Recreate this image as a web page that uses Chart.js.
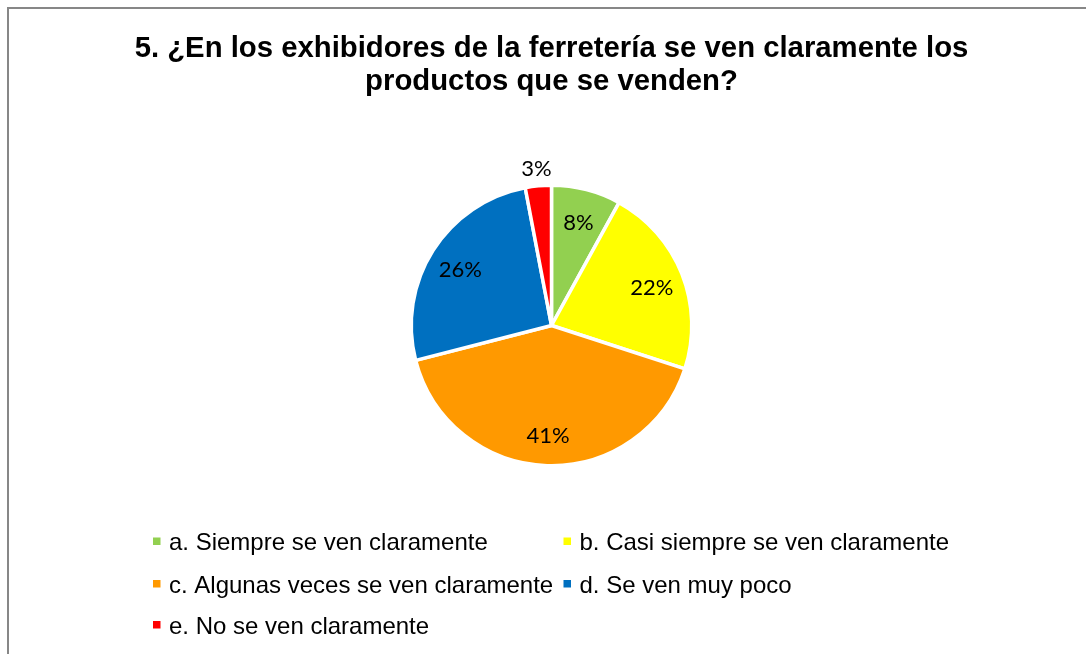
<!DOCTYPE html>
<html>
<head>
<meta charset="utf-8">
<script src="https://cdn.jsdelivr.net/npm/chart.js@4.4.1/dist/chart.umd.min.js"></script>
<style>
body{margin:0;background:#fff;overflow:hidden;}
#frame{position:absolute;left:7px;top:7px;width:1100px;height:660px;border-top:2px solid #878787;border-left:2px solid #878787;}
canvas{display:block;}
</style>
</head>
<body>
<div id="frame"><canvas id="pieChart" width="1085" height="645"></canvas></div>
<script>
const titleLines=['5. ¿En los exhibidores de la ferretería se ven claramente los','productos que se venden?'];
const categories=['a. Siempre se ven claramente','b. Casi siempre se ven claramente','c. Algunas veces se ven claramente','d. Se ven muy poco','e. No se ven claramente'];
const percentages=[8,22,41,26,3];
const sliceColors=['#92D050','#FFFF00','#FF9900','#0070C0','#FF0000'];

/* legend grid, Excel style: two fixed columns */
const legendCols=[144,554.5];
const legendRows=[541,583.5,624.5];

const sliceLabels={
id:'sliceLabels',
afterDatasetsDraw(chart){
const c=chart.ctx;
const arcs=chart.getDatasetMeta(0).data;
c.save();
c.font='22px Lato';
c.fillStyle='#000';
c.textAlign='center';
c.textBaseline='middle';
arcs.forEach((arc,i)=>{
const p=arc.getProps(['x','y','startAngle','endAngle','outerRadius']);
const mid=(p.startAngle+p.endAngle)/2;
const r=percentages[i]<5 ? p.outerRadius+19 : p.outerRadius*0.77;
c.fillText(percentages[i]+'%',p.x+Math.cos(mid)*r,p.y+Math.sin(mid)*r+2);
});
c.restore();
}
};

const gridLegend={
id:'gridLegend',
afterDraw(chart){
const c=chart.ctx;
const ds=chart.data.datasets[0];
c.save();
c.font='24px "Liberation Sans", Arial, sans-serif';
c.textBaseline='alphabetic';
c.textAlign='left';
chart.data.labels.forEach((lab,i)=>{
const x=legendCols[i%2];
const y=legendRows[Math.floor(i/2)];
c.fillStyle=ds.backgroundColor[i];
c.fillRect(x,y-12.5,7.5,7.5);
c.fillStyle='#000';
c.fillText(lab,x+16,y);
});
c.restore();
}
};

const ctx=document.getElementById('pieChart');

new Chart(ctx,{
type:'pie',
data:{
labels:categories,
datasets:[{
data:percentages,
backgroundColor:sliceColors,
borderColor:'#ffffff',
borderWidth:3.5
}]
},
options:{
responsive:false,
devicePixelRatio:1,
animation:false,
layout:{padding:{bottom:186.5}},
plugins:{
legend:{display:false},
tooltip:{enabled:false},
title:{
display:true,
text:titleLines,
color:'#000',
font:{family:'"Liberation Sans", Arial, sans-serif',size:29.3,weight:'bold',lineHeight:1.14},
padding:{top:23,bottom:84.7}
}
}
},
plugins:[sliceLabels,gridLegend]
});
</script>
</body>
</html>
